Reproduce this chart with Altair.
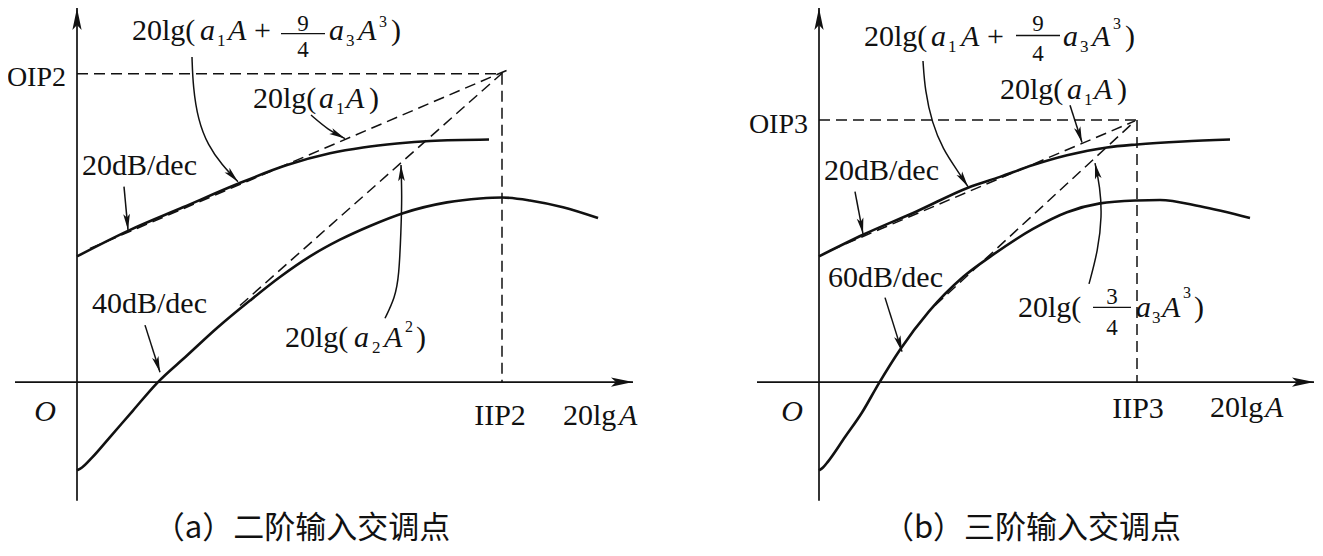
import math
import pandas as pd
import altair as alt

INK = "#111111"
SERIF = "Liberation Serif"
CJK = "Noto Sans CJK SC"

# ---------------- values (figure pixel units) ----------------
# panel (a) second-order intercept
a_fund_x = [77, 128, 183, 238, 287, 330, 363, 397, 430, 489]
a_fund_y = [256, 230, 206, 182, 163, 151, 145, 141, 138.5, 137]
a_im_x = [77, 82, 92, 110, 133, 157, 187, 217, 250, 280, 310, 340, 370, 403, 447, 480, 502, 530, 563, 598]
a_im_y = [474, 471, 461, 440, 413, 385, 357, 329, 301, 277, 256, 239, 225, 212, 201, 197, 196, 199, 206, 217]

# panel (b) third-order intercept
b_fund_x = [819, 863, 917, 968, 1000, 1033, 1067, 1107, 1137, 1183, 1230]
b_fund_y = [256, 234, 210, 186, 175, 163, 153, 145, 142, 139, 137]
b_im_x = [819, 823, 828, 845, 862, 879, 900, 929, 963, 992, 1033, 1067, 1100, 1137, 1160, 1200, 1250]
b_im_y = [474, 471, 465, 440, 415, 385, 351, 312, 277, 255, 228, 211, 202, 199, 198.5, 205, 217]

# dashed asymptotes / intercept guides: x1, y1, x2, y2
dash_x1 = [90, 240, 77, 502, 830, 935, 819, 1137]
dash_y1 = [248, 306, 70, 70, 250, 306, 117, 117]
dash_x2 = [508, 507, 502, 502, 1135, 1133, 1137, 1137]
dash_y2 = [66, 65, 70, 384, 118, 120, 117, 384]

# coordinate axes: x1, y1, x2, y2 (arrow tip at x2, y2)
axis_x1 = [77, 15, 819, 757]
axis_y1 = [505, 384, 505, 384]
axis_x2 = [77, 633, 819, 1314]
axis_y2 = [3, 384, 3, 384]

# annotation arrows (last point is the tip)
arrows = {
    "a_formula": ([192, 193, 198, 208, 222, 238], [53, 83, 117, 143, 163, 180]),
    "a_20dB": ([124, 128], [185, 229]),
    "a_a1A": ([311, 328, 345], [112, 127, 136]),
    "a_40dB": ([145, 160], [326, 374]),
    "a_a2A2": ([385, 395, 399, 401, 402, 401], [319, 298, 276, 230, 195, 163]),
    "b_formula": ([923, 925, 932, 943, 957, 968], [57, 87, 120, 147, 168, 185]),
    "b_20dB": ([855, 863], [190, 233]),
    "b_a1A": ([1070, 1082], [102, 140]),
    "b_60dB": ([885, 902], [298, 353]),
    "b_a3A3": ([1089, 1098, 1102, 1100, 1095], [284, 250, 215, 185, 161]),
}

# fraction bars: x1, x2, y
frac_x1 = [281, 1016, 1093]
frac_x2 = [325, 1060, 1131]
frac_y = [29, 31, 308]

M, SUB, SUP, FR = 30, 17, 16, 23
# text pieces: text, x, y(baseline), size, style, align, font
labels = [
    # panel (a) formula 20lg(a1A + 9/4 a3A^3)
    ("20lg(", 132, 36, M, "normal", "left", SERIF),
    ("a", 200, 36, M, "italic", "left", SERIF),
    ("1", 217, 42, SUB, "normal", "left", SERIF),
    ("A", 228, 36, M, "italic", "left", SERIF),
    ("+", 254, 36, M, "normal", "left", SERIF),
    ("9", 303, 26, FR, "normal", "center", SERIF),
    ("4", 303, 53, FR, "normal", "center", SERIF),
    ("a", 329, 36, M, "italic", "left", SERIF),
    ("3", 346, 42, SUB, "normal", "left", SERIF),
    ("A", 358, 36, M, "italic", "left", SERIF),
    ("3", 379, 22, SUP, "normal", "left", SERIF),
    (")", 391, 36, M, "normal", "left", SERIF),
    # panel (a) 20lg(a1A)
    ("20lg(", 253, 105, M, "normal", "left", SERIF),
    ("a", 319, 105, M, "italic", "left", SERIF),
    ("1", 336, 111, SUB, "normal", "left", SERIF),
    ("A", 346, 105, M, "italic", "left", SERIF),
    (")", 369, 105, M, "normal", "left", SERIF),
    # panel (a) 20lg(a2A^2)
    ("20lg(", 285, 348, M, "normal", "left", SERIF),
    ("a", 354, 348, M, "italic", "left", SERIF),
    ("2", 372, 354, SUB, "normal", "left", SERIF),
    ("A", 384, 348, M, "italic", "left", SERIF),
    ("2", 405, 333, SUP, "normal", "left", SERIF),
    (")", 416, 348, M, "normal", "left", SERIF),
    # panel (a) other labels
    ("OIP2", 66, 82, 28, "normal", "right", SERIF),
    ("20dB/dec", 82, 173, M, "normal", "left", SERIF),
    ("40dB/dec", 92, 314, M, "normal", "left", SERIF),
    ("O", 45, 424, M, "italic", "center", SERIF),
    ("IIP2", 500, 428, M, "normal", "center", SERIF),
    ("20lg", 563, 428, M, "normal", "left", SERIF),
    ("A", 619, 428, M, "italic", "left", SERIF),
    ("（a）二阶输入交调点", 302, 543, 31, "normal", "center", CJK),
    # panel (b) formula 20lg(a1A + 9/4 a3A^3)
    ("20lg(", 864, 42, M, "normal", "left", SERIF),
    ("a", 931, 42, M, "italic", "left", SERIF),
    ("1", 948, 48, SUB, "normal", "left", SERIF),
    ("A", 961, 42, M, "italic", "left", SERIF),
    ("+", 987, 42, M, "normal", "left", SERIF),
    ("9", 1038, 26, FR, "normal", "center", SERIF),
    ("4", 1038, 57, FR, "normal", "center", SERIF),
    ("a", 1063, 42, M, "italic", "left", SERIF),
    ("3", 1080, 48, SUB, "normal", "left", SERIF),
    ("A", 1092, 42, M, "italic", "left", SERIF),
    ("3", 1113, 24, SUP, "normal", "left", SERIF),
    (")", 1125, 42, M, "normal", "left", SERIF),
    # panel (b) 20lg(a1A)
    ("20lg(", 1000, 96, M, "normal", "left", SERIF),
    ("a", 1067, 96, M, "italic", "left", SERIF),
    ("1", 1084, 102, SUB, "normal", "left", SERIF),
    ("A", 1094, 96, M, "italic", "left", SERIF),
    (")", 1117, 96, M, "normal", "left", SERIF),
    # panel (b) 20lg(3/4 a3A^3)
    ("20lg(", 1018, 318, M, "normal", "left", SERIF),
    ("3", 1112, 304, FR, "normal", "center", SERIF),
    ("4", 1112, 336, FR, "normal", "center", SERIF),
    ("a", 1136, 318, M, "italic", "left", SERIF),
    ("3", 1152, 324, SUB, "normal", "left", SERIF),
    ("A", 1162, 318, M, "italic", "left", SERIF),
    ("3", 1183, 298, SUP, "normal", "left", SERIF),
    (")", 1194, 318, M, "normal", "left", SERIF),
    # panel (b) other labels
    ("OIP3", 808, 130, 28, "normal", "right", SERIF),
    ("20dB/dec", 824, 178, M, "normal", "left", SERIF),
    ("60dB/dec", 828, 287, M, "normal", "left", SERIF),
    ("O", 792, 424, M, "italic", "center", SERIF),
    ("IIP3", 1138, 421, M, "normal", "center", SERIF),
    ("20lg", 1210, 420, M, "normal", "left", SERIF),
    ("A", 1265, 420, M, "italic", "left", SERIF),
    ("（b）三阶输入交调点", 1032, 543, 31, "normal", "center", CJK),
]

# ---------------- tables ----------------
rows = []
for cid, (xs, ys) in {"a_fund": (a_fund_x, a_fund_y), "a_im": (a_im_x, a_im_y),
                      "b_fund": (b_fund_x, b_fund_y), "b_im": (b_im_x, b_im_y)}.items():
    for i, (x, y) in enumerate(zip(xs, ys)):
        rows.append({"id": cid, "i": i, "x": x, "y": y})
curves_df = pd.DataFrame(rows)

dash_df = pd.DataFrame({"x": dash_x1, "y": dash_y1, "x2": dash_x2, "y2": dash_y2})
axis_df = pd.DataFrame({"x": axis_x1, "y": axis_y1, "x2": axis_x2, "y2": axis_y2})
frac_df = pd.DataFrame({"x": frac_x1, "x2": frac_x2, "y": frac_y, "y2": frac_y})

arow, heads = [], []
for aid, (xs, ys) in arrows.items():
    for i, (x, y) in enumerate(zip(xs, ys)):
        arow.append({"id": aid, "i": i, "x": x, "y": y})
    dx, dy = xs[-1] - xs[-2], ys[-1] - ys[-2]
    heads.append({"x": xs[-1], "y": ys[-1],
                  "angle": (math.degrees(math.atan2(dx, -dy)) + 360) % 360, "size": 256})
for x1, y1, x2, y2 in zip(axis_x1, axis_y1, axis_x2, axis_y2):
    dx, dy = x2 - x1, y2 - y1
    heads.append({"x": x2, "y": y2,
                  "angle": (math.degrees(math.atan2(dx, -dy)) + 360) % 360, "size": 484})
arrow_df = pd.DataFrame(arow)
head_df = pd.DataFrame(heads)

label_df = pd.DataFrame(labels, columns=["text", "x", "y", "size", "style", "align", "font"])

# ---------------- chart ----------------
# the figure spans y 3..553; squeeze it into the 540 px drawing height
xs_ = alt.Scale(domain=[8, 1315], nice=False, zero=False)
ys_ = alt.Scale(domain=[3, 553], nice=False, zero=False, reverse=True)


def X():
    return alt.X("x:Q", scale=xs_, axis=None)


def Y():
    return alt.Y("y:Q", scale=ys_, axis=None)


solid = alt.Chart(curves_df).mark_line(stroke=INK, strokeWidth=2.6, interpolate="monotone").encode(
    x=X(), y=Y(), detail="id:N", order="i:Q")

dashed = alt.Chart(dash_df).mark_rule(stroke=INK, strokeWidth=1.5, strokeDash=[11, 6]).encode(
    x=X(), y=Y(), x2="x2:Q", y2="y2:Q")

axes = alt.Chart(axis_df).mark_rule(stroke=INK, strokeWidth=1.7).encode(
    x=X(), y=Y(), x2="x2:Q", y2="y2:Q")

fracs = alt.Chart(frac_df).mark_rule(stroke=INK, strokeWidth=1.3).encode(
    x=X(), y=Y(), x2="x2:Q", y2="y2:Q")

alines = alt.Chart(arrow_df).mark_line(stroke=INK, strokeWidth=1.5, interpolate="basis").encode(
    x=X(), y=Y(), detail="id:N", order="i:Q")

aheads = alt.Chart(head_df).mark_point(
    shape="M0,0L-0.42,2L0,1.55L0.42,2Z", filled=True, fill=INK, strokeWidth=0, opacity=1
).encode(x=X(), y=Y(), angle=alt.Angle("angle:Q", scale=None), size=alt.Size("size:Q", scale=None))

text_layers = []
for (style, align, font), g in label_df.groupby(["style", "align", "font"]):
    text_layers.append(
        alt.Chart(g.reset_index(drop=True)).mark_text(
            align=align, baseline="alphabetic", font=font, fontStyle=style, color=INK
        ).encode(x=X(), y=Y(), text="text:N", size=alt.Size("size:Q", scale=None))
    )

chart = alt.layer(dashed, axes, solid, alines, aheads, fracs, *text_layers).properties(
    width=1307, height=540, padding=0, autosize=alt.AutoSizeParams(type="none"),
    background="white"
).configure_view(stroke=None)

chart.save("out.html", embed_options={"renderer": "svg", "actions": False})
